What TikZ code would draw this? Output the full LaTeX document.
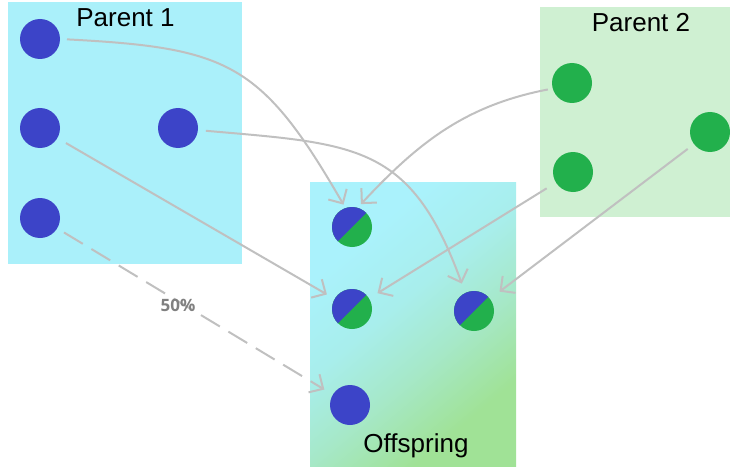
\documentclass[tikz,border=0pt]{standalone}
\usepackage{fontspec}
\setmainfont{Liberation Sans}
\newfontfamily\pctfont{Open Sans}
\usetikzlibrary{arrows.meta,shadings}

\definecolor{dotblue}{RGB}{60,68,200}
\definecolor{dotgreen}{RGB}{34,176,76}
\definecolor{boxcyan}{RGB}{170,240,250}
\definecolor{boxgreen}{RGB}{207,240,210}
\definecolor{offTop}{RGB}{170,242,252}
\definecolor{offUpper}{RGB}{168,238,236}
\definecolor{offLower}{RGB}{166,232,200}
\definecolor{offBot}{RGB}{160,226,150}
\definecolor{linkgray}{RGB}{192,192,192}
\definecolor{pctgray}{RGB}{128,128,128}

% cyan-to-green fade for the offspring panel
\pgfdeclareverticalshading{offspringfade}{100bp}{%
  color(0bp)=(offBot); color(28bp)=(offBot); color(42bp)=(offLower);
  color(55bp)=(offUpper); color(70bp)=(offTop); color(100bp)=(offTop)}

\tikzset{
  blueDot/.style={circle, fill=dotblue, minimum size=40pt, inner sep=0pt, outer sep=0pt},
  greenDot/.style={circle, fill=dotgreen, minimum size=40pt, inner sep=0pt, outer sep=0pt},
  mixDot/.style={circle, fill=dotgreen, minimum size=40pt, inner sep=0pt, outer sep=0pt,
    path picture={\fill[dotblue] (path picture bounding box.south west)
      -- (path picture bounding box.north east)
      -- (path picture bounding box.north west) -- cycle;}},
  link/.style={draw=linkgray, line width=2pt, -{Straight Barb[angle=90:15pt]}},
  title/.style={anchor=base, font=\fontsize{26}{30}\selectfont, inner sep=0pt},
}

\begin{document}
\begin{tikzpicture}[x=1pt, y=1pt]
\useasboundingbox (0,0) rectangle (730,-468);

% group backgrounds
\fill[boxcyan] (8,-2) rectangle (242,-264);
\fill[boxgreen] (540,-7) rectangle (730,-217);
\shade[shading=offspringfade, shading angle=40] (310,-182) rectangle (516,-466);

% parent 1
\node[blueDot] (p1a) at (40,-39) {};
\node[blueDot] (p1b) at (40,-128) {};
\node[blueDot] (p1c) at (178,-128) {};
\node[blueDot] (p1d) at (40,-218) {};

% parent 2
\node[greenDot] (p2a) at (572,-83) {};
\node[greenDot] (p2b) at (573,-172) {};
\node[greenDot] (p2c) at (710,-132) {};

% offspring
\node[mixDot] (o1) at (352,-227) {};
\node[mixDot] (o2) at (352,-309) {};
\node[mixDot] (o3) at (474,-311) {};
\node[blueDot] (o4) at (350,-405) {};

% inheritance links
\draw[link, shorten <=7pt, shorten >=4pt] (p1a.0) to[out=-3, in=120, looseness=1.3] (o1.109);
\draw[link, shorten <=5pt, shorten >=5pt] (p2a.196) to[out=191, in=47] (o1.74);
\draw[link, shorten <=10pt, shorten >=9pt] (p1b) -- (o2);
\draw[link, shorten <=8pt, shorten >=10pt] (p1c.-6) to[out=-5, in=110, looseness=1.3] (o3.116);
\draw[link, shorten <=11pt, shorten >=10pt] (p2b) -- (o2);
\draw[link, shorten <=8pt, shorten >=12pt] (p2c) -- (o3);
\draw[link, dash pattern=on 22pt off 10pt, shorten <=8pt, shorten >=10pt] (p1d) -- (o4);

% labels
\node[title] (t1) at (125.5,-27) {Parent 1};
\node[title] (t2) at (641,-32) {Parent 2};
\node[title] (t3) at (416,-452) {Offspring};
\node[font=\pctfont\bfseries\fontsize{17}{20}\selectfont, text=pctgray, inner sep=0pt] (pct) at (178,-305) {50\%};
\end{tikzpicture}
\end{document}
